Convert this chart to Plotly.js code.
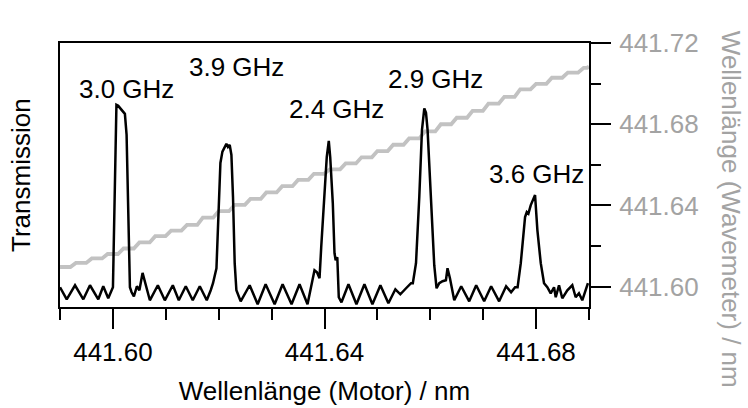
<!DOCTYPE html>
<html>
<head>
<meta charset="utf-8">
<script src="https://cdn.plot.ly/plotly-3.0.1.min.js"></script>
<style>html,body{margin:0;padding:0;background:#fff;}#chart{width:748px;height:408px;}</style>
</head>
<body>
<div id="chart"></div>
<script>
// Transmission spectrum vs motor wavelength (nm)
var motorNm = [
441.59000,441.59126,441.59283,441.59440,441.59566,441.59723,441.59817,441.59911,441.60000,
441.60066,441.60100,441.60132,441.60194,441.60226,441.60258,441.60302,441.60321,441.60353,
441.60396,441.60453,441.60500,441.60560,441.60698,441.60849,441.60981,441.61132,441.61245,
441.61377,441.61509,441.61642,441.61774,441.61849,441.61892,441.61957,441.61987,441.62032,
441.62070,441.62113,441.62145,441.62175,441.62208,441.62240,441.62270,441.62302,441.62334,
441.62415,441.62585,441.62736,441.62887,441.63057,441.63208,441.63377,441.63528,441.63679,
441.63755,441.63811,441.63858,441.63906,441.63938,441.64000,441.64043,441.64081,441.64108,
441.64157,441.64189,441.64211,441.64242,441.64270,441.64321,441.64453,441.64604,441.64755,
441.64906,441.65057,441.65208,441.65340,441.65434,441.65542,441.65636,441.65670,441.65730,
441.65792,441.65843,441.65887,441.65919,441.65949,441.66013,441.66075,441.66119,441.66170,
441.66232,441.66296,441.66326,441.66372,441.66453,441.66585,441.66736,441.66868,441.67019,
441.67151,441.67302,441.67434,441.67528,441.67604,441.67651,441.67711,441.67792,441.67825,
441.67855,441.67900,441.67981,441.68025,441.68089,441.68151,441.68213,441.68277,441.68340,
441.68372,441.68434,441.68496,441.68591,441.68685,441.68749,441.68811,441.68874,441.68938,
441.68981
];
var transmission = [
0.0748,0.0292,0.0824,0.0292,0.0824,0.0292,0.0786,0.0330,0.0748,
0.7658,0.7620,0.7544,0.7392,0.7316,0.6519,0.2912,0.0748,0.0558,
0.0406,0.0786,0.0634,0.1291,0.0254,0.0824,0.0254,0.0824,0.0254,
0.0786,0.0254,0.0786,0.0254,0.0634,0.0900,0.1469,0.2912,0.5456,
0.5885,0.6025,0.6177,0.6063,0.6139,0.5759,0.4165,0.1659,0.0634,
0.0216,0.0824,0.0103,0.0862,0.0103,0.0862,0.0103,0.0862,0.0103,
0.0900,0.1393,0.1317,0.1090,0.2267,0.4431,0.5683,0.6291,0.5683,
0.3937,0.2039,0.1773,0.1887,0.0368,0.0178,0.0862,0.0103,0.0862,
0.0103,0.0824,0.0140,0.0672,0.0482,0.0710,0.0900,0.0900,0.1659,
0.4165,0.6708,0.7525,0.7354,0.6708,0.4051,0.1583,0.0710,0.0900,
0.0976,0.1014,0.1469,0.1090,0.0254,0.0786,0.0216,0.0824,0.0216,
0.0786,0.0216,0.0786,0.0558,0.0748,0.0748,0.1659,0.3405,0.3595,
0.3538,0.3861,0.4241,0.2912,0.1659,0.0900,0.0748,0.0520,0.0748,
0.0368,0.0824,0.0330,0.0634,0.0824,0.0368,0.0520,0.0254,0.0634,
0.0900
];
// Wavemeter reading vs motor wavelength (stepped)
var motorStepNm = [
441.590,441.593,441.596,441.599,441.602,441.605,441.608,441.611,441.614,441.617,
441.620,441.623,441.626,441.629,441.632,441.635,441.638,441.641,441.644,441.647,
441.650,441.653,441.656,441.659,441.662,441.665,441.668,441.671,441.674,441.677,
441.680,441.683,441.686,441.689,441.690
];
var wavemeterNm = [
441.6097,441.6117,441.6139,441.6161,441.6188,441.6218,441.6249,441.6276,441.6304,441.6340,
441.6372,441.6403,441.6432,441.6464,441.6495,441.6526,441.6556,441.6578,441.6607,441.6637,
441.6668,441.6699,441.6730,441.6765,441.6800,441.6832,441.6866,441.6902,441.6935,441.6972,
441.6999,441.7029,441.7054,441.7078,441.7083
];
// Peak labels
var peakLabels = ["3.0 GHz","3.9 GHz","2.4 GHz","2.9 GHz","3.6 GHz"];
var peakLabelX = [441.60264,441.62345,441.64221,441.66091,441.68009];
var peakLabelY = [0.8265,0.9081,0.7506,0.8645,0.5038];

var xTicks = [441.60,441.64,441.68];
var xMinor = [441.59,441.61,441.62,441.63,441.65,441.66,441.67,441.69];
var y2Ticks = [441.60,441.64,441.68,441.72];
var y2Minor = [441.62,441.66,441.70];

var FONT = "Liberation Sans, Arial, Helvetica, sans-serif";
var GRAYTXT = "#a3a3a3";

// stair path: each reading held flat for most of its step, then a short slanted rise
var stairX = [], stairY = [];
for (var i = 0; i < motorStepNm.length; i++) {
  stairX.push(motorStepNm[i]); stairY.push(wavemeterNm[i]);
  if (i < motorStepNm.length - 1) {
    stairX.push(motorStepNm[i] + 0.65 * (motorStepNm[i+1] - motorStepNm[i]));
    stairY.push(wavemeterNm[i]);
  }
}

var traces = [
  {x: stairX, y: stairY, type:"scatter", mode:"lines", yaxis:"y",
   line:{color:"#c2c2c2", width:3.8, shape:"linear"}, hoverinfo:"skip"},
  {x: motorNm, y: transmission, type:"scatter", mode:"lines", yaxis:"y2",
   line:{color:"#000000", width:2.5}, hoverinfo:"skip"}
];

var annotations = peakLabels.map(function(t,i){
  return {text:t, x:peakLabelX[i], y:peakLabelY[i], xref:"x", yref:"y2",
    showarrow:false, xanchor:"center", yanchor:"middle",
    font:{family:FONT, size:26, color:"#000"}};
});
annotations.push({text:"Transmission", xref:"paper", yref:"paper", x:-0.0737, y:0.5,
  textangle:-90, showarrow:false, xanchor:"center", yanchor:"middle",
  font:{family:FONT, size:26, color:"#000"}});
annotations.push({text:"Wellenlänge (Wavemeter) / nm", xref:"paper", yref:"paper", x:1.2675, y:0.37,
  textangle:90, showarrow:false, xanchor:"center", yanchor:"middle",
  font:{family:FONT, size:26, color:GRAYTXT}});

var layout = {
  width:748, height:408,
  margin:{l:60, r:158.7, t:43.3, b:101.3, pad:0},
  paper_bgcolor:"#fff", plot_bgcolor:"#fff",
  showlegend:false,
  font:{family:FONT, size:26, color:"#000"},
  xaxis:{
    range:[441.58999,441.69001], showgrid:false, zeroline:false,
    showline:true, linecolor:"#000", linewidth:2, mirror:true,
    ticks:"outside", ticklen:20, tickwidth:2, tickcolor:"#000",
    tickvals:xTicks, ticktext:xTicks.map(function(v){return v.toFixed(2);}),
    tickfont:{family:FONT, size:26, color:"#000"}, ticklabelstandoff:1,
    minor:{tickvals:xMinor, ticks:"outside", ticklen:11, tickwidth:2, tickcolor:"#000", showgrid:false},
    title:{text:"Wellenlänge (Motor) / nm", font:{family:FONT, size:26, color:"#000"}, standoff:16}
  },
  yaxis:{
    range:[441.58999,441.72001], side:"right", showgrid:false, zeroline:false,
    showline:true, linecolor:"#000", linewidth:2,
    ticks:"outside", ticklen:20, tickwidth:2, tickcolor:"#000",
    tickvals:y2Ticks, ticktext:y2Ticks.map(function(v){return v.toFixed(2);}),
    tickfont:{family:FONT, size:26, color:GRAYTXT}, ticklabelstandoff:3,
    minor:{tickvals:y2Minor, ticks:"outside", ticklen:10, tickwidth:2, tickcolor:"#000", showgrid:false}
  },
  yaxis2:{
    range:[0,1], overlaying:"y", side:"left", showgrid:false, zeroline:false,
    showline:true, linecolor:"#000", linewidth:2, showticklabels:false, ticks:""
  },
  annotations:annotations
};

Plotly.newPlot("chart", traces, layout, {staticPlot:true, displayModeBar:false});
</script>
</body>
</html>
